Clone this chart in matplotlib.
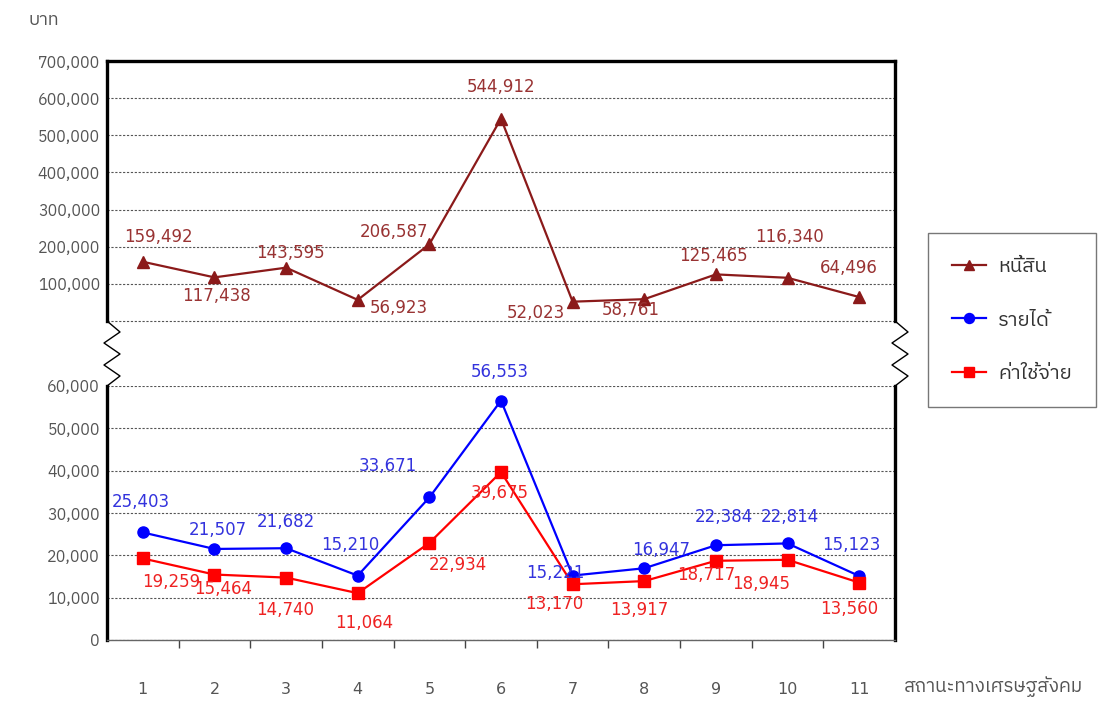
import numpy as np
import matplotlib
matplotlib.use("Agg")
import matplotlib.pyplot as plt
from matplotlib import font_manager
from matplotlib.lines import Line2D

categories = list(range(1, 12))
debt = [159492, 117438, 143595, 56923, 206587, 544912, 52023, 58761, 125465, 116340, 64496]
income = [25403, 21507, 21682, 15210, 33671, 56553, 15221, 16947, 22384, 22814, 15123]
expense = [19259, 15464, 14740, 11064, 22934, 39675, 13170, 13917, 18717, 18945, 13560]
series_names = ["หนี้สิน", "รายได้", "ค่าใช้จ่าย"]
y_unit = "บาท"
x_title = "สถานะทางเศรษฐสังคม"

# label offsets in pixels (dx, dy; dy positive = up)
debt_off = [(16, 25), (2, -19), (4, 15), (41, -8), (-35, 12), (0, 32), (-37, -11),
            (-14, -11), (-2, 18), (2, 41), (-10, 29)]
income_off = [(-2, 30), (3, 19), (0, 26), (-7, 31), (-42, 31), (-1, 29), (-17, 3),
              (17, 18), (8, 28), (2, 26), (-8, 31)]
expense_off = [(28, -24), (9, -14), (-1, -32), (6, -30), (29, -22), (-1, -21), (-18, -20),
               (-5, -29), (-10, -14), (-26, -24), (-10, -26)]

thai = [f.name for f in font_manager.fontManager.ttflist
        if "Thai" in f.name or f.name in ("Loma", "Garuda", "Tlwg Typo", "Kinnari", "Norasi", "Sawasdee")]
family = sorted(set(thai))[:1] + ["DejaVu Sans"]
plt.rcParams["font.family"] = family

W, H = 1099, 701
fig = plt.figure(figsize=(W / 100, H / 100), dpi=100)

def fx(px):
    return px / W

def fy(py):
    return 1 - py / H

left, right = 107, 895
ax1 = fig.add_axes([fx(left), fy(321), fx(right - left), fy(61) - fy(321)])
ax2 = fig.add_axes([fx(left), fy(640), fx(right - left), fy(386) - fy(640)])

c_debt, c_inc, c_exp = "#8B1A1A", "#0000FF", "#FF0000"
t_debt, t_inc, t_exp = "#993333", "#3333DD", "#EE2222"
tick_col = "#555555"
px2pt = 0.72

ax1.plot(categories, debt, color=c_debt, lw=1.6, marker="^", ms=8, label=series_names[0])
ax2.plot(categories, income, color=c_inc, lw=1.6, marker="o", ms=8, label=series_names[1])
ax2.plot(categories, expense, color=c_exp, lw=1.6, marker="s", ms=8, label=series_names[2])

def labels(ax, vals, offs, col):
    for x, v, (dx, dy) in zip(categories, vals, offs):
        ax.annotate(f"{v:,}", (x, v), xytext=(dx * px2pt, dy * px2pt), textcoords="offset points",
                    ha="center", va="center", color=col, fontsize=12, family="DejaVu Sans")

labels(ax1, debt, debt_off, t_debt)
labels(ax2, income, income_off, t_inc)
labels(ax2, expense, expense_off, t_exp)

for ax in (ax1, ax2):
    ax.set_xlim(0.5, 11.5)
    ax.grid(axis="y", color="#555555", ls=(0, (2, 1.5)), lw=0.8)
    ax.set_axisbelow(True)
    ax.spines["left"].set_linewidth(2.4)
    ax.spines["right"].set_linewidth(2.4)
    ax.tick_params(axis="y", length=0, pad=5, labelsize=11.5, labelcolor=tick_col)

ax1.set_ylim(0, 700000)
ax1.set_yticks(range(100000, 700001, 100000))
ax1.yaxis.set_major_formatter(lambda v, p: f"{int(v):,}")
ax1.spines["top"].set_linewidth(2.4)
ax1.spines["bottom"].set_visible(False)
ax1.axhline(0, color="#555555", ls=(0, (2, 1.5)), lw=0.8, clip_on=False)
ax1.set_xticks([])

ax2.set_ylim(0, 60000)
ax2.set_yticks(range(0, 60001, 10000))
ax2.yaxis.set_major_formatter(lambda v, p: f"{int(v):,}")
ax2.spines["top"].set_visible(False)
ax2.spines["bottom"].set_color("#666666")
ax2.spines["bottom"].set_linewidth(1.0)
ax2.set_xticks(categories)
ax2.set_xticks(np.arange(1.5, 11, 1), minor=True)
ax2.tick_params(axis="x", which="major", length=0, pad=30, labelsize=11.5, labelcolor=tick_col)
ax2.tick_params(axis="x", which="minor", length=6, width=1.0, color="#444444", direction="out")
ax2.set_xticklabels([str(c) for c in categories], family="DejaVu Sans")

# axis break zigzags
zx = np.array([0, 13, -3, 13, -3, 13, 0])
zy = np.array([321, 332, 343, 354, 365, 376, 386])
for x0 in (left, right):
    fig.add_artist(Line2D(fx(x0 + zx), fy(zy), color="black", lw=1.0))

fig.text(fx(44), fy(20), y_unit, ha="center", va="center", fontsize=13, color=tick_col)
fig.text(fx(993), fy(687), x_title, ha="center", va="center", fontsize=13.5, color=tick_col)

handles = ax1.get_lines()[:1] + ax2.get_lines()[:2]
leg = fig.legend(handles, series_names, loc="center", bbox_to_anchor=(fx(1012), fy(320)),
                 fontsize=14.5, frameon=True, fancybox=False, edgecolor="#555555",
                 labelspacing=1.7, handlelength=1.7, handletextpad=0.6, borderpad=1.2,
                 labelcolor="#333333", markerscale=0.9)
leg.get_frame().set_linewidth(1.0)

fig.savefig("out.png", dpi=100)
